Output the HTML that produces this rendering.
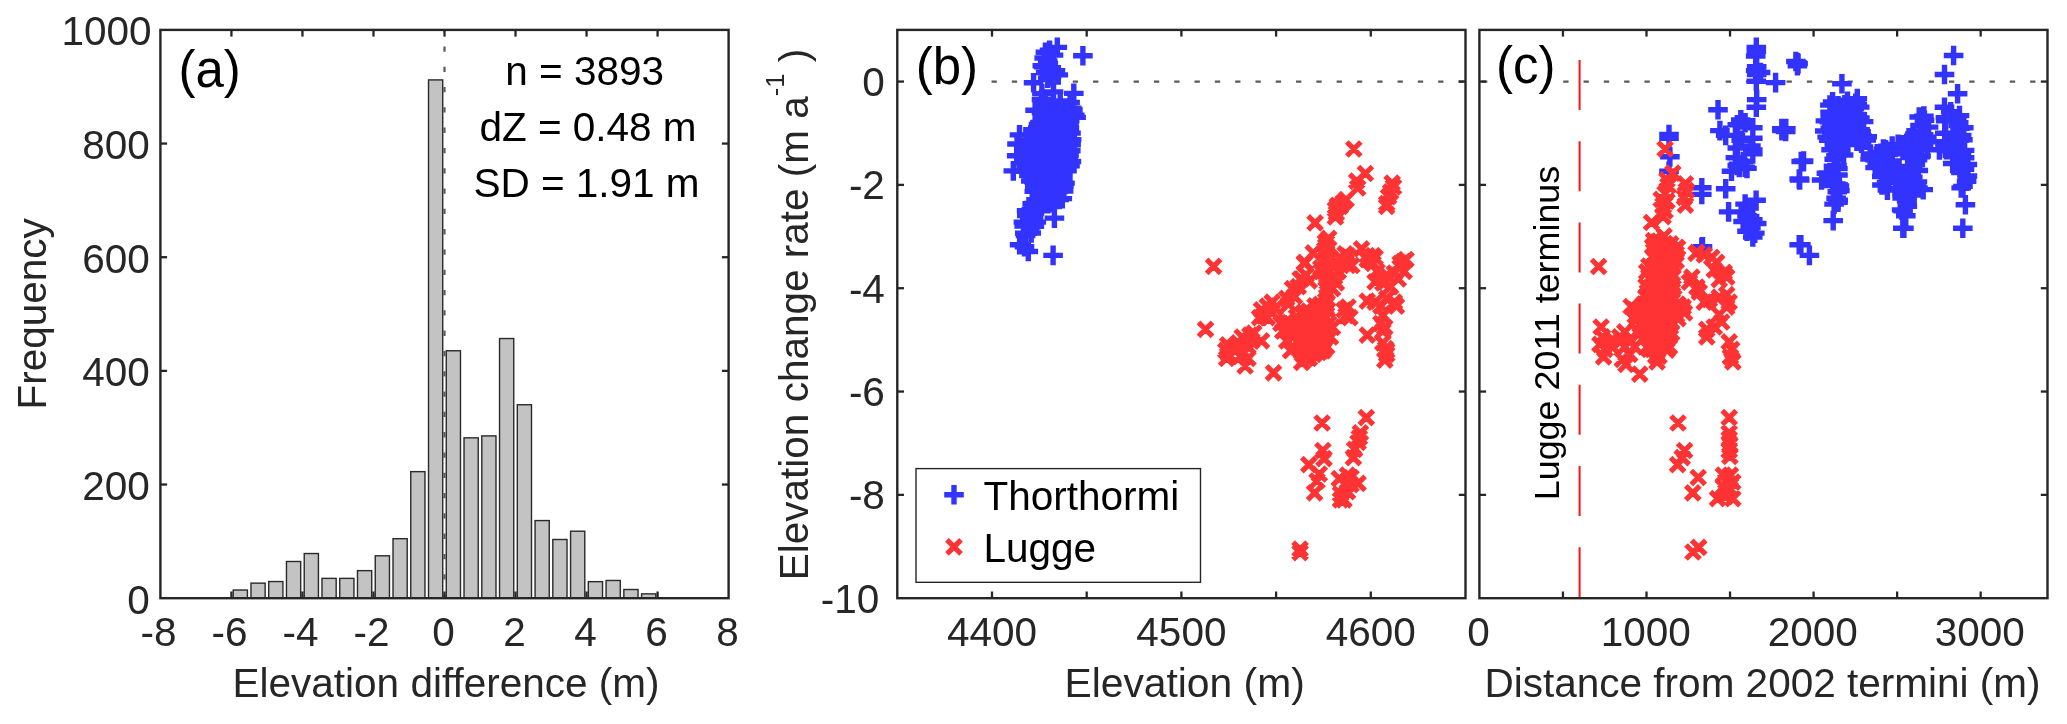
<!DOCTYPE html>
<html><head><meta charset="utf-8"><title>Elevation change figure</title>
<style>html,body{margin:0;padding:0;background:#fff}svg{display:block;will-change:transform}text{font-family:"Liberation Sans", Arial, Helvetica, sans-serif}</style></head><body>
<svg width="2067" height="724" viewBox="0 0 2067 724">
<rect width="2067" height="724" fill="#fff"/>
<g id="panel-a">
<rect x="233.20" y="590.02" width="14.21" height="8.18" fill="#c3c3c3" stroke="#2a2a2a" stroke-width="1.4"/>
<rect x="250.96" y="583.14" width="14.20" height="15.06" fill="#c3c3c3" stroke="#2a2a2a" stroke-width="1.4"/>
<rect x="268.71" y="581.55" width="14.21" height="16.65" fill="#c3c3c3" stroke="#2a2a2a" stroke-width="1.4"/>
<rect x="286.47" y="561.49" width="14.21" height="36.71" fill="#c3c3c3" stroke="#2a2a2a" stroke-width="1.4"/>
<rect x="304.23" y="553.53" width="14.20" height="44.67" fill="#c3c3c3" stroke="#2a2a2a" stroke-width="1.4"/>
<rect x="321.98" y="578.37" width="14.20" height="19.83" fill="#c3c3c3" stroke="#2a2a2a" stroke-width="1.4"/>
<rect x="339.74" y="578.37" width="14.20" height="19.83" fill="#c3c3c3" stroke="#2a2a2a" stroke-width="1.4"/>
<rect x="357.49" y="570.64" width="14.21" height="27.56" fill="#c3c3c3" stroke="#2a2a2a" stroke-width="1.4"/>
<rect x="375.25" y="555.80" width="14.21" height="42.40" fill="#c3c3c3" stroke="#2a2a2a" stroke-width="1.4"/>
<rect x="393.01" y="538.70" width="14.20" height="59.50" fill="#c3c3c3" stroke="#2a2a2a" stroke-width="1.4"/>
<rect x="410.76" y="471.64" width="14.20" height="126.56" fill="#c3c3c3" stroke="#2a2a2a" stroke-width="1.4"/>
<rect x="428.52" y="79.91" width="14.21" height="518.29" fill="#c3c3c3" stroke="#2a2a2a" stroke-width="1.4"/>
<rect x="446.28" y="350.76" width="14.20" height="247.44" fill="#c3c3c3" stroke="#2a2a2a" stroke-width="1.4"/>
<rect x="464.03" y="437.83" width="14.21" height="160.37" fill="#c3c3c3" stroke="#2a2a2a" stroke-width="1.4"/>
<rect x="481.79" y="435.89" width="14.20" height="162.31" fill="#c3c3c3" stroke="#2a2a2a" stroke-width="1.4"/>
<rect x="499.54" y="338.54" width="14.20" height="259.66" fill="#c3c3c3" stroke="#2a2a2a" stroke-width="1.4"/>
<rect x="517.30" y="404.75" width="14.20" height="193.45" fill="#c3c3c3" stroke="#2a2a2a" stroke-width="1.4"/>
<rect x="535.06" y="520.57" width="14.20" height="77.63" fill="#c3c3c3" stroke="#2a2a2a" stroke-width="1.4"/>
<rect x="552.81" y="539.49" width="14.21" height="58.71" fill="#c3c3c3" stroke="#2a2a2a" stroke-width="1.4"/>
<rect x="570.57" y="531.20" width="14.20" height="67.00" fill="#c3c3c3" stroke="#2a2a2a" stroke-width="1.4"/>
<rect x="588.33" y="581.66" width="14.20" height="16.54" fill="#c3c3c3" stroke="#2a2a2a" stroke-width="1.4"/>
<rect x="606.08" y="580.47" width="14.20" height="17.73" fill="#c3c3c3" stroke="#2a2a2a" stroke-width="1.4"/>
<rect x="623.84" y="589.51" width="14.20" height="8.69" fill="#c3c3c3" stroke="#2a2a2a" stroke-width="1.4"/>
<rect x="641.59" y="593.88" width="14.21" height="4.32" fill="#c3c3c3" stroke="#2a2a2a" stroke-width="1.4"/>
<line x1="444.50" y1="29.90" x2="444.50" y2="598.20" stroke="#5a5a5a" stroke-width="2.2" stroke-dasharray="5.3 15" stroke-dashoffset="-16.5"/>
<line x1="231.43" y1="598.20" x2="231.43" y2="591.50" stroke="#262626" stroke-width="2.3" />
<line x1="231.43" y1="29.90" x2="231.43" y2="36.60" stroke="#262626" stroke-width="2.3" />
<line x1="302.45" y1="598.20" x2="302.45" y2="591.50" stroke="#262626" stroke-width="2.3" />
<line x1="302.45" y1="29.90" x2="302.45" y2="36.60" stroke="#262626" stroke-width="2.3" />
<line x1="373.48" y1="598.20" x2="373.48" y2="591.50" stroke="#262626" stroke-width="2.3" />
<line x1="373.48" y1="29.90" x2="373.48" y2="36.60" stroke="#262626" stroke-width="2.3" />
<line x1="444.50" y1="598.20" x2="444.50" y2="591.50" stroke="#262626" stroke-width="2.3" />
<line x1="444.50" y1="29.90" x2="444.50" y2="36.60" stroke="#262626" stroke-width="2.3" />
<line x1="515.52" y1="598.20" x2="515.52" y2="591.50" stroke="#262626" stroke-width="2.3" />
<line x1="515.52" y1="29.90" x2="515.52" y2="36.60" stroke="#262626" stroke-width="2.3" />
<line x1="586.55" y1="598.20" x2="586.55" y2="591.50" stroke="#262626" stroke-width="2.3" />
<line x1="586.55" y1="29.90" x2="586.55" y2="36.60" stroke="#262626" stroke-width="2.3" />
<line x1="657.58" y1="598.20" x2="657.58" y2="591.50" stroke="#262626" stroke-width="2.3" />
<line x1="657.58" y1="29.90" x2="657.58" y2="36.60" stroke="#262626" stroke-width="2.3" />
<line x1="160.40" y1="484.54" x2="167.10" y2="484.54" stroke="#262626" stroke-width="2.3" />
<line x1="728.60" y1="484.54" x2="721.90" y2="484.54" stroke="#262626" stroke-width="2.3" />
<line x1="160.40" y1="370.88" x2="167.10" y2="370.88" stroke="#262626" stroke-width="2.3" />
<line x1="728.60" y1="370.88" x2="721.90" y2="370.88" stroke="#262626" stroke-width="2.3" />
<line x1="160.40" y1="257.22" x2="167.10" y2="257.22" stroke="#262626" stroke-width="2.3" />
<line x1="728.60" y1="257.22" x2="721.90" y2="257.22" stroke="#262626" stroke-width="2.3" />
<line x1="160.40" y1="143.56" x2="167.10" y2="143.56" stroke="#262626" stroke-width="2.3" />
<line x1="728.60" y1="143.56" x2="721.90" y2="143.56" stroke="#262626" stroke-width="2.3" />
<rect x="160.40" y="29.90" width="568.20" height="568.30" fill="none" stroke="#262626" stroke-width="2.4"/>
<text x="158.40" y="646.30" font-size="40.5" text-anchor="middle" fill="#262626" >-8</text>
<text x="229.43" y="646.30" font-size="40.5" text-anchor="middle" fill="#262626" >-6</text>
<text x="300.45" y="646.30" font-size="40.5" text-anchor="middle" fill="#262626" >-4</text>
<text x="371.48" y="646.30" font-size="40.5" text-anchor="middle" fill="#262626" >-2</text>
<text x="443.50" y="646.30" font-size="40.5" text-anchor="middle" fill="#262626" >0</text>
<text x="514.52" y="646.30" font-size="40.5" text-anchor="middle" fill="#262626" >2</text>
<text x="585.55" y="646.30" font-size="40.5" text-anchor="middle" fill="#262626" >4</text>
<text x="656.58" y="646.30" font-size="40.5" text-anchor="middle" fill="#262626" >6</text>
<text x="727.60" y="646.30" font-size="40.5" text-anchor="middle" fill="#262626" >8</text>
<text x="149.90" y="613.50" font-size="40.5" text-anchor="end" fill="#262626" >0</text>
<text x="149.90" y="499.84" font-size="40.5" text-anchor="end" fill="#262626" >200</text>
<text x="149.90" y="386.18" font-size="40.5" text-anchor="end" fill="#262626" >400</text>
<text x="149.90" y="272.52" font-size="40.5" text-anchor="end" fill="#262626" >600</text>
<text x="149.90" y="158.86" font-size="40.5" text-anchor="end" fill="#262626" >800</text>
<text x="151.60" y="45.20" font-size="40.5" text-anchor="end" fill="#262626" >1000</text>
<text x="446.00" y="697.40" font-size="40.5" text-anchor="middle" fill="#262626" >Elevation difference (m)</text>
<text transform="translate(46,313.8) rotate(-90)" font-size="40.5" text-anchor="middle" fill="#262626">Frequency</text>
<text x="178.50" y="87.20" font-size="51" text-anchor="start" fill="#000" >(a)</text>
<text x="584.70" y="84.60" font-size="40.5" text-anchor="middle" fill="#000" >n = 3893</text>
<text x="588.00" y="141.00" font-size="40.5" text-anchor="middle" fill="#000" >dZ = 0.48 m</text>
<text x="586.50" y="197.40" font-size="40.5" text-anchor="middle" fill="#000" >SD = 1.91 m</text>
</g>
<g id="panel-b">
<line x1="897.30" y1="81.56" x2="1465.50" y2="81.56" stroke="#5a5a5a" stroke-width="2.2" stroke-dasharray="5.3 15" stroke-dashoffset="-13.05"/>
<path d="M1073.1 55.7h19.6M1082.9 45.9v19.6M1047.5 47.4h19.6M1057.3 37.6v19.6M1039.8 50.3h19.6M1049.6 40.5v19.6M1035.6 52.2h19.6M1045.4 42.4v19.6M1043.7 55.1h19.6M1053.5 45.3v19.6M1034.4 58.0h19.6M1044.2 48.2v19.6M1037.9 60.9h19.6M1047.7 51.1v19.6M1032.5 65.8h19.6M1042.3 56.0v19.6M1034.0 66.7h19.6M1043.8 56.9v19.6M1039.8 68.7h19.6M1049.6 58.9v19.6M1045.6 70.6h19.6M1055.4 60.8v19.6M1035.9 72.5h19.6M1045.7 62.7v19.6M1048.5 74.9h19.6M1058.3 65.1v19.6M1041.7 76.4h19.6M1051.5 66.6v19.6M1037.9 78.3h19.6M1047.7 68.5v19.6M1023.8 82.8h19.6M1033.6 73.0v19.6M1064.0 93.4h19.6M1073.8 83.6v19.6M1032.1 93.8h19.6M1041.9 84.0v19.6M1043.7 91.9h19.6M1053.5 82.1v19.6M1031.7 99.6h19.6M1041.5 89.8v19.6M1025.3 110.2h19.6M1035.1 100.4v19.6M1065.0 115.1h19.6M1074.8 105.3v19.6M1066.3 117.4h19.6M1076.1 107.6v19.6M1009.7 134.9h19.6M1019.5 125.1v19.6M1007.2 144.0h19.6M1017.0 134.2v19.6M1035.5 101.3h19.6M1045.3 91.5v19.6M1050.4 101.0h19.6M1060.2 91.2v19.6M1060.3 102.4h19.6M1070.1 92.6v19.6M1032.5 105.1h19.6M1042.3 95.3v19.6M1041.1 107.7h19.6M1050.9 97.9v19.6M1043.9 108.1h19.6M1053.7 98.3v19.6M1050.4 107.0h19.6M1060.2 97.2v19.6M1054.5 108.0h19.6M1064.3 98.2v19.6M1062.0 108.1h19.6M1071.8 98.3v19.6M1031.7 112.5h19.6M1041.5 102.7v19.6M1038.6 111.0h19.6M1048.4 101.2v19.6M1046.0 111.7h19.6M1055.8 101.9v19.6M1049.5 111.7h19.6M1059.3 101.9v19.6M1056.5 110.0h19.6M1066.3 100.2v19.6M1063.1 109.8h19.6M1072.9 100.0v19.6M1032.4 119.1h19.6M1042.2 109.3v19.6M1038.0 118.3h19.6M1047.8 108.5v19.6M1046.4 119.0h19.6M1056.2 109.2v19.6M1049.6 116.7h19.6M1059.4 106.9v19.6M1055.8 118.3h19.6M1065.6 108.5v19.6M1059.6 118.2h19.6M1069.4 108.4v19.6M1028.7 124.4h19.6M1038.5 114.6v19.6M1033.1 124.4h19.6M1042.9 114.6v19.6M1039.4 122.0h19.6M1049.2 112.2v19.6M1044.0 121.5h19.6M1053.8 111.7v19.6M1048.5 121.3h19.6M1058.3 111.5v19.6M1056.5 124.7h19.6M1066.3 114.9v19.6M1059.9 120.9h19.6M1069.7 111.1v19.6M1023.1 129.6h19.6M1032.9 119.8v19.6M1028.0 127.9h19.6M1037.8 118.1v19.6M1031.9 129.9h19.6M1041.7 120.1v19.6M1037.3 128.2h19.6M1047.1 118.4v19.6M1046.1 126.8h19.6M1055.9 117.0v19.6M1051.1 130.0h19.6M1060.9 120.2v19.6M1056.2 129.4h19.6M1066.0 119.6v19.6M1059.6 128.0h19.6M1069.4 118.2v19.6M1024.7 135.2h19.6M1034.5 125.4v19.6M1030.1 133.6h19.6M1039.9 123.8v19.6M1033.7 134.7h19.6M1043.5 124.9v19.6M1039.1 132.9h19.6M1048.9 123.1v19.6M1044.3 132.3h19.6M1054.1 122.5v19.6M1049.7 135.7h19.6M1059.5 125.9v19.6M1057.5 134.3h19.6M1067.3 124.5v19.6M1061.2 133.1h19.6M1071.0 123.3v19.6M1018.3 140.7h19.6M1028.1 130.9v19.6M1022.2 140.4h19.6M1032.0 130.6v19.6M1029.3 140.0h19.6M1039.1 130.2v19.6M1034.4 140.3h19.6M1044.2 130.5v19.6M1038.7 140.1h19.6M1048.5 130.3v19.6M1043.8 139.2h19.6M1053.6 129.4v19.6M1051.3 140.0h19.6M1061.1 130.2v19.6M1054.9 141.0h19.6M1064.7 131.2v19.6M1061.8 139.6h19.6M1071.6 129.8v19.6M1016.2 145.4h19.6M1026.0 135.6v19.6M1022.6 146.0h19.6M1032.4 136.2v19.6M1028.8 145.9h19.6M1038.6 136.1v19.6M1033.1 145.3h19.6M1042.9 135.5v19.6M1040.2 146.1h19.6M1050.0 136.3v19.6M1044.1 146.1h19.6M1053.9 136.3v19.6M1051.7 145.5h19.6M1061.5 135.7v19.6M1057.6 146.6h19.6M1067.4 136.8v19.6M1061.3 144.9h19.6M1071.1 135.1v19.6M1019.0 150.2h19.6M1028.8 140.4v19.6M1023.5 151.1h19.6M1033.3 141.3v19.6M1029.1 148.9h19.6M1038.9 139.1v19.6M1034.8 150.6h19.6M1044.6 140.8v19.6M1039.9 149.9h19.6M1049.7 140.1v19.6M1045.2 151.3h19.6M1055.0 141.5v19.6M1050.8 151.1h19.6M1060.6 141.3v19.6M1053.8 148.9h19.6M1063.6 139.1v19.6M1061.0 150.8h19.6M1070.8 141.0v19.6M1017.7 153.9h19.6M1027.5 144.1v19.6M1022.6 154.7h19.6M1032.4 144.9v19.6M1026.4 154.3h19.6M1036.2 144.5v19.6M1033.0 154.5h19.6M1042.8 144.7v19.6M1038.0 153.9h19.6M1047.8 144.1v19.6M1044.6 155.3h19.6M1054.4 145.5v19.6M1050.7 156.1h19.6M1060.5 146.3v19.6M1054.7 157.4h19.6M1064.5 147.6v19.6M1059.2 155.4h19.6M1069.0 145.6v19.6M1015.7 162.6h19.6M1025.5 152.8v19.6M1022.2 159.4h19.6M1032.0 149.6v19.6M1028.7 159.6h19.6M1038.5 149.8v19.6M1033.9 160.6h19.6M1043.7 150.8v19.6M1039.5 163.1h19.6M1049.3 153.3v19.6M1046.0 160.9h19.6M1055.8 151.1v19.6M1051.5 161.8h19.6M1061.3 152.0v19.6M1055.2 159.8h19.6M1065.0 150.0v19.6M1061.6 161.5h19.6M1071.4 151.7v19.6M1003.5 170.9h19.6M1013.3 161.1v19.6M1006.9 155.8h19.6M1016.7 146.0v19.6M1043.3 255.4h19.6M1053.1 245.6v19.6M1044.6 218.1h19.6M1054.4 208.3v19.6M1018.5 251.5h19.6M1028.3 241.7v19.6M1009.8 244.8h19.6M1019.6 235.0v19.6M1014.7 246.7h19.6M1024.5 236.9v19.6M1024.3 154.5h19.6M1034.1 144.7v19.6M1042.3 155.8h19.6M1052.1 146.0v19.6M1054.1 156.3h19.6M1063.9 146.5v19.6M1019.2 158.5h19.6M1029.0 148.7v19.6M1025.4 161.3h19.6M1035.2 151.5v19.6M1030.3 160.3h19.6M1040.1 150.5v19.6M1037.7 159.5h19.6M1047.5 149.7v19.6M1042.8 158.3h19.6M1052.6 148.5v19.6M1046.4 158.8h19.6M1056.2 149.0v19.6M1054.3 159.7h19.6M1064.1 149.9v19.6M1058.4 160.3h19.6M1068.2 150.5v19.6M1016.3 166.3h19.6M1026.1 156.5v19.6M1019.6 165.8h19.6M1029.4 156.0v19.6M1026.2 167.0h19.6M1036.0 157.2v19.6M1032.5 164.7h19.6M1042.3 154.9v19.6M1039.0 164.0h19.6M1048.8 154.2v19.6M1042.3 166.5h19.6M1052.1 156.7v19.6M1046.7 165.5h19.6M1056.5 155.7v19.6M1051.8 166.2h19.6M1061.6 156.4v19.6M1060.2 165.8h19.6M1070.0 156.0v19.6M1015.9 171.4h19.6M1025.7 161.6v19.6M1020.9 170.8h19.6M1030.7 161.0v19.6M1027.5 172.8h19.6M1037.3 163.0v19.6M1031.5 171.7h19.6M1041.3 161.9v19.6M1035.4 171.8h19.6M1045.2 162.0v19.6M1043.2 173.0h19.6M1053.0 163.2v19.6M1049.4 170.1h19.6M1059.2 160.3v19.6M1053.2 171.7h19.6M1063.0 161.9v19.6M1057.2 170.8h19.6M1067.0 161.0v19.6M1019.1 175.5h19.6M1028.9 165.7v19.6M1025.7 178.0h19.6M1035.5 168.2v19.6M1029.9 176.3h19.6M1039.7 166.5v19.6M1037.3 178.0h19.6M1047.1 168.2v19.6M1043.9 178.0h19.6M1053.7 168.2v19.6M1047.2 176.2h19.6M1057.0 166.4v19.6M1053.1 178.0h19.6M1062.9 168.2v19.6M1021.0 181.1h19.6M1030.8 171.3v19.6M1024.1 181.7h19.6M1033.9 171.9v19.6M1031.1 182.3h19.6M1040.9 172.5v19.6M1038.9 182.8h19.6M1048.7 173.0v19.6M1042.7 182.5h19.6M1052.5 172.7v19.6M1048.8 180.2h19.6M1058.6 170.4v19.6M1055.2 183.1h19.6M1065.0 173.3v19.6M1025.0 186.1h19.6M1034.8 176.3v19.6M1031.0 185.7h19.6M1040.8 175.9v19.6M1035.1 186.1h19.6M1044.9 176.3v19.6M1041.0 187.0h19.6M1050.8 177.2v19.6M1046.2 189.0h19.6M1056.0 179.2v19.6M1054.1 186.1h19.6M1063.9 176.3v19.6M1024.5 191.4h19.6M1034.3 181.6v19.6M1031.0 192.1h19.6M1040.8 182.3v19.6M1038.4 191.6h19.6M1048.2 181.8v19.6M1040.7 194.8h19.6M1050.5 185.0v19.6M1048.2 191.6h19.6M1058.0 181.8v19.6M1053.8 191.1h19.6M1063.6 181.3v19.6M1026.2 199.6h19.6M1036.0 189.8v19.6M1030.9 197.4h19.6M1040.7 187.6v19.6M1038.4 200.4h19.6M1048.2 190.6v19.6M1044.0 199.7h19.6M1053.8 189.9v19.6M1049.4 199.5h19.6M1059.2 189.7v19.6M1052.5 198.6h19.6M1062.3 188.8v19.6M1022.4 203.8h19.6M1032.2 194.0v19.6M1027.9 206.0h19.6M1037.7 196.2v19.6M1033.4 203.5h19.6M1043.2 193.7v19.6M1036.0 202.9h19.6M1045.8 193.1v19.6M1041.4 202.8h19.6M1051.2 193.0v19.6M1016.8 210.6h19.6M1026.6 200.8v19.6M1021.6 209.4h19.6M1031.4 199.6v19.6M1024.8 210.7h19.6M1034.6 200.9v19.6M1030.9 210.7h19.6M1040.7 200.9v19.6M1017.0 215.6h19.6M1026.8 205.8v19.6M1020.0 215.2h19.6M1029.8 205.4v19.6M1024.6 213.1h19.6M1034.4 203.3v19.6M1013.6 222.1h19.6M1023.4 212.3v19.6M1020.0 220.3h19.6M1029.8 210.5v19.6M1026.5 222.1h19.6M1036.3 212.3v19.6M1014.4 226.1h19.6M1024.2 216.3v19.6M1020.8 227.1h19.6M1030.6 217.3v19.6M1024.5 226.2h19.6M1034.3 216.4v19.6M1015.0 233.3h19.6M1024.8 223.5v19.6M1021.4 233.0h19.6M1031.2 223.2v19.6M1015.8 235.6h19.6M1025.6 225.8v19.6" stroke="#3333ff" stroke-width="5.4" fill="none"/>
<path d="M1346.8 142.0l14.0 14.0M1346.8 156.0l14.0 -14.0M1358.4 166.5l14.0 14.0M1358.4 180.5l14.0 -14.0M1349.7 174.2l14.0 14.0M1349.7 188.2l14.0 -14.0M1350.7 181.0l14.0 14.0M1350.7 195.0l14.0 -14.0M1385.1 176.2l14.0 14.0M1385.1 190.2l14.0 -14.0M1386.5 180.0l14.0 14.0M1386.5 194.0l14.0 -14.0M1383.6 184.9l14.0 14.0M1383.6 198.9l14.0 -14.0M1381.6 189.7l14.0 14.0M1381.6 203.7l14.0 -14.0M1379.7 196.5l14.0 14.0M1379.7 210.5l14.0 -14.0M1379.7 199.4l14.0 14.0M1379.7 213.4l14.0 -14.0M1339.1 192.6l14.0 14.0M1339.1 206.6l14.0 -14.0M1336.2 195.5l14.0 14.0M1336.2 209.5l14.0 -14.0M1333.3 199.4l14.0 14.0M1333.3 213.4l14.0 -14.0M1330.4 198.4l14.0 14.0M1330.4 212.4l14.0 -14.0M1328.4 202.3l14.0 14.0M1328.4 216.3l14.0 -14.0M1329.4 206.1l14.0 14.0M1329.4 220.1l14.0 -14.0M1328.4 210.0l14.0 14.0M1328.4 224.0l14.0 -14.0M1308.1 215.8l14.0 14.0M1308.1 229.8l14.0 -14.0M1321.7 231.3l14.0 14.0M1321.7 245.3l14.0 -14.0M1319.7 235.2l14.0 14.0M1319.7 249.2l14.0 -14.0M1318.8 239.0l14.0 14.0M1318.8 253.0l14.0 -14.0M1317.8 242.9l14.0 14.0M1317.8 256.9l14.0 -14.0M1306.2 245.8l14.0 14.0M1306.2 259.8l14.0 -14.0M1297.5 256.4l14.0 14.0M1297.5 270.4l14.0 -14.0M1319.7 248.7l14.0 14.0M1319.7 262.7l14.0 -14.0M1320.7 254.5l14.0 14.0M1320.7 268.5l14.0 -14.0M1338.1 246.8l14.0 14.0M1338.1 260.8l14.0 -14.0M1354.5 241.9l14.0 14.0M1354.5 255.9l14.0 -14.0M1360.3 248.7l14.0 14.0M1360.3 262.7l14.0 -14.0M1366.1 248.7l14.0 14.0M1366.1 262.7l14.0 -14.0M1364.2 254.5l14.0 14.0M1364.2 268.5l14.0 -14.0M1396.1 254.5l14.0 14.0M1396.1 268.5l14.0 -14.0M1393.2 256.4l14.0 14.0M1393.2 270.4l14.0 -14.0M1399.0 252.6l14.0 14.0M1399.0 266.6l14.0 -14.0M1331.3 256.4l14.0 14.0M1331.3 270.4l14.0 -14.0M1341.0 258.4l14.0 14.0M1341.0 272.4l14.0 -14.0M1297.5 255.6l14.0 14.0M1297.5 269.6l14.0 -14.0M1294.6 272.0l14.0 14.0M1294.6 286.0l14.0 -14.0M1302.3 273.9l14.0 14.0M1302.3 287.9l14.0 -14.0M1396.1 254.6l14.0 14.0M1396.1 268.6l14.0 -14.0M1393.2 260.4l14.0 14.0M1393.2 274.4l14.0 -14.0M1397.1 264.3l14.0 14.0M1397.1 278.3l14.0 -14.0M1387.4 266.2l14.0 14.0M1387.4 280.2l14.0 -14.0M1379.7 268.1l14.0 14.0M1379.7 282.1l14.0 -14.0M1370.0 264.3l14.0 14.0M1370.0 278.3l14.0 -14.0M1366.1 256.5l14.0 14.0M1366.1 270.5l14.0 -14.0M1368.1 250.7l14.0 14.0M1368.1 264.7l14.0 -14.0M1360.3 252.7l14.0 14.0M1360.3 266.7l14.0 -14.0M1368.1 274.9l14.0 14.0M1368.1 288.9l14.0 -14.0M1375.8 275.9l14.0 14.0M1375.8 289.9l14.0 -14.0M1383.6 279.7l14.0 14.0M1383.6 293.7l14.0 -14.0M1391.3 272.0l14.0 14.0M1391.3 286.0l14.0 -14.0M1360.3 294.2l14.0 14.0M1360.3 308.2l14.0 -14.0M1368.1 295.2l14.0 14.0M1368.1 309.2l14.0 -14.0M1373.9 299.1l14.0 14.0M1373.9 313.1l14.0 -14.0M1379.7 291.3l14.0 14.0M1379.7 305.3l14.0 -14.0M1387.4 295.2l14.0 14.0M1387.4 309.2l14.0 -14.0M1389.4 299.1l14.0 14.0M1389.4 313.1l14.0 -14.0M1375.8 308.7l14.0 14.0M1375.8 322.7l14.0 -14.0M1373.9 316.5l14.0 14.0M1373.9 330.5l14.0 -14.0M1377.8 320.3l14.0 14.0M1377.8 334.3l14.0 -14.0M1375.8 324.2l14.0 14.0M1375.8 338.2l14.0 -14.0M1360.3 328.1l14.0 14.0M1360.3 342.1l14.0 -14.0M1375.8 335.8l14.0 14.0M1375.8 349.8l14.0 -14.0M1378.7 341.6l14.0 14.0M1378.7 355.6l14.0 -14.0M1379.7 347.4l14.0 14.0M1379.7 361.4l14.0 -14.0M1377.8 353.2l14.0 14.0M1377.8 367.2l14.0 -14.0M1379.7 343.6l14.0 14.0M1379.7 357.6l14.0 -14.0M1341.0 300.0l14.0 14.0M1341.0 314.0l14.0 -14.0M1337.1 302.9l14.0 14.0M1337.1 316.9l14.0 -14.0M1342.9 310.7l14.0 14.0M1342.9 324.7l14.0 -14.0M1339.1 308.7l14.0 14.0M1339.1 322.7l14.0 -14.0M1344.9 258.5l14.0 14.0M1344.9 272.5l14.0 -14.0M1339.1 254.6l14.0 14.0M1339.1 268.6l14.0 -14.0M1333.3 250.7l14.0 14.0M1333.3 264.7l14.0 -14.0M1341.0 248.8l14.0 14.0M1341.0 262.8l14.0 -14.0M1331.3 264.3l14.0 14.0M1331.3 278.3l14.0 -14.0M1327.5 270.1l14.0 14.0M1327.5 284.1l14.0 -14.0M1329.4 275.9l14.0 14.0M1329.4 289.9l14.0 -14.0M1325.5 281.7l14.0 14.0M1325.5 295.7l14.0 -14.0M1294.6 355.2l14.0 14.0M1294.6 369.2l14.0 -14.0M1302.3 351.3l14.0 14.0M1302.3 365.3l14.0 -14.0M1312.0 345.5l14.0 14.0M1312.0 359.5l14.0 -14.0M1319.7 339.7l14.0 14.0M1319.7 353.7l14.0 -14.0M1323.6 330.0l14.0 14.0M1323.6 344.0l14.0 -14.0M1325.5 320.3l14.0 14.0M1325.5 334.3l14.0 -14.0M1321.7 316.5l14.0 14.0M1321.7 330.5l14.0 -14.0M1206.6 259.4l14.0 14.0M1206.6 273.4l14.0 -14.0M1198.5 322.3l14.0 14.0M1198.5 336.3l14.0 -14.0M1266.5 365.8l14.0 14.0M1266.5 379.8l14.0 -14.0M1220.7 337.8l14.0 14.0M1220.7 351.8l14.0 -14.0M1218.8 343.6l14.0 14.0M1218.8 357.6l14.0 -14.0M1221.7 347.4l14.0 14.0M1221.7 361.4l14.0 -14.0M1219.7 351.3l14.0 14.0M1219.7 365.3l14.0 -14.0M1227.5 339.7l14.0 14.0M1227.5 353.7l14.0 -14.0M1235.2 330.0l14.0 14.0M1235.2 344.0l14.0 -14.0M1239.1 333.9l14.0 14.0M1239.1 347.9l14.0 -14.0M1242.9 328.1l14.0 14.0M1242.9 342.1l14.0 -14.0M1246.8 326.1l14.0 14.0M1246.8 340.1l14.0 -14.0M1241.0 339.7l14.0 14.0M1241.0 353.7l14.0 -14.0M1237.1 345.5l14.0 14.0M1237.1 359.5l14.0 -14.0M1241.0 351.3l14.0 14.0M1241.0 365.3l14.0 -14.0M1238.1 359.0l14.0 14.0M1238.1 373.0l14.0 -14.0M1254.5 333.9l14.0 14.0M1254.5 347.9l14.0 -14.0M1231.3 335.8l14.0 14.0M1231.3 349.8l14.0 -14.0M1233.3 349.4l14.0 14.0M1233.3 363.4l14.0 -14.0M1244.9 333.9l14.0 14.0M1244.9 347.9l14.0 -14.0M1265.2 295.2l14.0 14.0M1265.2 309.2l14.0 -14.0M1260.3 299.1l14.0 14.0M1260.3 313.1l14.0 -14.0M1254.5 302.9l14.0 14.0M1254.5 316.9l14.0 -14.0M1256.5 308.7l14.0 14.0M1256.5 322.7l14.0 -14.0M1252.6 310.7l14.0 14.0M1252.6 324.7l14.0 -14.0M1264.2 304.9l14.0 14.0M1264.2 318.9l14.0 -14.0M1268.1 301.0l14.0 14.0M1268.1 315.0l14.0 -14.0M1260.3 310.7l14.0 14.0M1260.3 324.7l14.0 -14.0M1298.1 255.6l14.0 14.0M1298.1 269.6l14.0 -14.0M1293.2 272.0l14.0 14.0M1293.2 286.0l14.0 -14.0M1285.5 281.7l14.0 14.0M1285.5 295.7l14.0 -14.0M1279.7 291.3l14.0 14.0M1279.7 305.3l14.0 -14.0M1281.6 297.1l14.0 14.0M1281.6 311.1l14.0 -14.0M1299.0 268.1l14.0 14.0M1299.0 282.1l14.0 -14.0M1291.3 279.7l14.0 14.0M1291.3 293.7l14.0 -14.0M1287.4 289.4l14.0 14.0M1287.4 303.4l14.0 -14.0M1295.2 355.2l14.0 14.0M1295.2 369.2l14.0 -14.0M1299.0 351.3l14.0 14.0M1299.0 365.3l14.0 -14.0M1279.7 333.9l14.0 14.0M1279.7 347.9l14.0 -14.0M1275.8 324.2l14.0 14.0M1275.8 338.2l14.0 -14.0M1273.9 316.5l14.0 14.0M1273.9 330.5l14.0 -14.0M1283.6 343.6l14.0 14.0M1283.6 357.6l14.0 -14.0M1306.8 347.4l14.0 14.0M1306.8 361.4l14.0 -14.0M1316.4 343.6l14.0 14.0M1316.4 357.6l14.0 -14.0M1318.4 235.1l14.0 14.0M1318.4 249.1l14.0 -14.0M1319.5 240.9l14.0 14.0M1319.5 254.9l14.0 -14.0M1319.6 246.6l14.0 14.0M1319.6 260.6l14.0 -14.0M1320.2 253.8l14.0 14.0M1320.2 267.8l14.0 -14.0M1313.8 261.2l14.0 14.0M1313.8 275.2l14.0 -14.0M1318.8 260.8l14.0 14.0M1318.8 274.8l14.0 -14.0M1314.3 264.7l14.0 14.0M1314.3 278.7l14.0 -14.0M1318.0 265.1l14.0 14.0M1318.0 279.1l14.0 -14.0M1319.1 271.6l14.0 14.0M1319.1 285.6l14.0 -14.0M1319.7 279.2l14.0 14.0M1319.7 293.2l14.0 -14.0M1320.2 285.3l14.0 14.0M1320.2 299.3l14.0 -14.0M1318.8 293.6l14.0 14.0M1318.8 307.6l14.0 -14.0M1308.0 298.8l14.0 14.0M1308.0 312.8l14.0 -14.0M1313.7 297.3l14.0 14.0M1313.7 311.3l14.0 -14.0M1319.6 297.0l14.0 14.0M1319.6 311.0l14.0 -14.0M1296.8 305.3l14.0 14.0M1296.8 319.3l14.0 -14.0M1301.7 304.0l14.0 14.0M1301.7 318.0l14.0 -14.0M1307.9 304.1l14.0 14.0M1307.9 318.1l14.0 -14.0M1312.6 303.7l14.0 14.0M1312.6 317.7l14.0 -14.0M1320.6 302.9l14.0 14.0M1320.6 316.9l14.0 -14.0M1289.6 309.8l14.0 14.0M1289.6 323.8l14.0 -14.0M1297.1 309.4l14.0 14.0M1297.1 323.4l14.0 -14.0M1301.4 309.4l14.0 14.0M1301.4 323.4l14.0 -14.0M1308.0 309.6l14.0 14.0M1308.0 323.6l14.0 -14.0M1313.2 311.0l14.0 14.0M1313.2 325.0l14.0 -14.0M1319.1 310.5l14.0 14.0M1319.1 324.5l14.0 -14.0M1278.9 315.1l14.0 14.0M1278.9 329.1l14.0 -14.0M1282.3 315.5l14.0 14.0M1282.3 329.5l14.0 -14.0M1290.4 316.6l14.0 14.0M1290.4 330.6l14.0 -14.0M1294.9 315.8l14.0 14.0M1294.9 329.8l14.0 -14.0M1300.7 316.2l14.0 14.0M1300.7 330.2l14.0 -14.0M1306.3 316.9l14.0 14.0M1306.3 330.9l14.0 -14.0M1314.8 317.6l14.0 14.0M1314.8 331.6l14.0 -14.0M1320.3 317.7l14.0 14.0M1320.3 331.7l14.0 -14.0M1285.0 323.1l14.0 14.0M1285.0 337.1l14.0 -14.0M1289.4 323.6l14.0 14.0M1289.4 337.6l14.0 -14.0M1296.0 323.2l14.0 14.0M1296.0 337.2l14.0 -14.0M1301.0 321.4l14.0 14.0M1301.0 335.4l14.0 -14.0M1307.5 321.2l14.0 14.0M1307.5 335.2l14.0 -14.0M1313.3 323.7l14.0 14.0M1313.3 337.7l14.0 -14.0M1319.1 320.8l14.0 14.0M1319.1 334.8l14.0 -14.0M1284.5 327.9l14.0 14.0M1284.5 341.9l14.0 -14.0M1289.0 327.1l14.0 14.0M1289.0 341.1l14.0 -14.0M1297.1 328.1l14.0 14.0M1297.1 342.1l14.0 -14.0M1300.8 327.0l14.0 14.0M1300.8 341.0l14.0 -14.0M1306.3 327.3l14.0 14.0M1306.3 341.3l14.0 -14.0M1314.2 327.2l14.0 14.0M1314.2 341.2l14.0 -14.0M1318.3 328.3l14.0 14.0M1318.3 342.3l14.0 -14.0M1290.5 334.0l14.0 14.0M1290.5 348.0l14.0 -14.0M1297.1 334.2l14.0 14.0M1297.1 348.2l14.0 -14.0M1300.9 334.0l14.0 14.0M1300.9 348.0l14.0 -14.0M1306.3 334.0l14.0 14.0M1306.3 348.0l14.0 -14.0M1312.9 335.4l14.0 14.0M1312.9 349.4l14.0 -14.0M1294.6 338.9l14.0 14.0M1294.6 352.9l14.0 -14.0M1302.9 340.5l14.0 14.0M1302.9 354.5l14.0 -14.0M1309.1 340.0l14.0 14.0M1309.1 354.0l14.0 -14.0M1314.8 340.7l14.0 14.0M1314.8 354.7l14.0 -14.0M1295.2 346.8l14.0 14.0M1295.2 360.8l14.0 -14.0M1302.5 346.7l14.0 14.0M1302.5 360.7l14.0 -14.0M1315.1 416.0l14.0 14.0M1315.1 430.0l14.0 -14.0M1359.3 410.6l14.0 14.0M1359.3 424.6l14.0 -14.0M1353.4 425.9l14.0 14.0M1353.4 439.9l14.0 -14.0M1352.3 430.6l14.0 14.0M1352.3 444.6l14.0 -14.0M1351.1 435.3l14.0 14.0M1351.1 449.3l14.0 -14.0M1347.6 442.3l14.0 14.0M1347.6 456.3l14.0 -14.0M1346.4 450.6l14.0 14.0M1346.4 464.6l14.0 -14.0M1315.9 443.5l14.0 14.0M1315.9 457.5l14.0 -14.0M1317.0 451.7l14.0 14.0M1317.0 465.7l14.0 -14.0M1301.8 457.6l14.0 14.0M1301.8 471.6l14.0 -14.0M1312.3 467.0l14.0 14.0M1312.3 481.0l14.0 -14.0M1310.0 474.0l14.0 14.0M1310.0 488.0l14.0 -14.0M1307.6 485.8l14.0 14.0M1307.6 499.8l14.0 -14.0M1332.3 471.7l14.0 14.0M1332.3 485.7l14.0 -14.0M1340.5 468.2l14.0 14.0M1340.5 482.2l14.0 -14.0M1344.0 470.5l14.0 14.0M1344.0 484.5l14.0 -14.0M1338.2 477.6l14.0 14.0M1338.2 491.6l14.0 -14.0M1344.0 477.6l14.0 14.0M1344.0 491.6l14.0 -14.0M1351.1 476.4l14.0 14.0M1351.1 490.4l14.0 -14.0M1333.5 487.0l14.0 14.0M1333.5 501.0l14.0 -14.0M1340.5 484.6l14.0 14.0M1340.5 498.6l14.0 -14.0M1333.5 492.8l14.0 14.0M1333.5 506.8l14.0 -14.0M1337.0 492.8l14.0 14.0M1337.0 506.8l14.0 -14.0M1293.1 542.2l14.0 14.0M1293.1 556.2l14.0 -14.0M1293.1 545.7l14.0 14.0M1293.1 559.7l14.0 -14.0" stroke="#ff3333" stroke-width="5.2" fill="none"/>
<rect x="906" y="45" width="84" height="52" fill="#fff"/>
<text x="915.70" y="83.50" font-size="51" text-anchor="start" fill="#000" >(b)</text>
<rect x="916" y="468.6" width="284.5" height="113.7" fill="#fff" stroke="#262626" stroke-width="1.4"/>
<path d="M944.2 494.7h19.6M954.0 484.9v19.6" stroke="#3333ff" stroke-width="5.4" fill="none"/>
<path d="M947.0 539.8l14.0 14.0M947.0 553.8l14.0 -14.0" stroke="#ff3333" stroke-width="5.2" fill="none"/>
<text x="983.50" y="509.70" font-size="40.5" text-anchor="start" fill="#000" >Thorthormi</text>
<text x="983.50" y="562.10" font-size="40.5" text-anchor="start" fill="#000" >Lugge</text>
<line x1="992.00" y1="598.20" x2="992.00" y2="591.50" stroke="#262626" stroke-width="2.3" />
<line x1="992.00" y1="29.90" x2="992.00" y2="36.60" stroke="#262626" stroke-width="2.3" />
<line x1="1086.70" y1="598.20" x2="1086.70" y2="591.50" stroke="#262626" stroke-width="2.3" />
<line x1="1086.70" y1="29.90" x2="1086.70" y2="36.60" stroke="#262626" stroke-width="2.3" />
<line x1="1181.40" y1="598.20" x2="1181.40" y2="591.50" stroke="#262626" stroke-width="2.3" />
<line x1="1181.40" y1="29.90" x2="1181.40" y2="36.60" stroke="#262626" stroke-width="2.3" />
<line x1="1276.10" y1="598.20" x2="1276.10" y2="591.50" stroke="#262626" stroke-width="2.3" />
<line x1="1276.10" y1="29.90" x2="1276.10" y2="36.60" stroke="#262626" stroke-width="2.3" />
<line x1="1370.80" y1="598.20" x2="1370.80" y2="591.50" stroke="#262626" stroke-width="2.3" />
<line x1="1370.80" y1="29.90" x2="1370.80" y2="36.60" stroke="#262626" stroke-width="2.3" />
<line x1="897.30" y1="494.87" x2="904.00" y2="494.87" stroke="#262626" stroke-width="2.3" />
<line x1="1465.50" y1="494.87" x2="1458.80" y2="494.87" stroke="#262626" stroke-width="2.3" />
<line x1="897.30" y1="391.55" x2="904.00" y2="391.55" stroke="#262626" stroke-width="2.3" />
<line x1="1465.50" y1="391.55" x2="1458.80" y2="391.55" stroke="#262626" stroke-width="2.3" />
<line x1="897.30" y1="288.22" x2="904.00" y2="288.22" stroke="#262626" stroke-width="2.3" />
<line x1="1465.50" y1="288.22" x2="1458.80" y2="288.22" stroke="#262626" stroke-width="2.3" />
<line x1="897.30" y1="184.89" x2="904.00" y2="184.89" stroke="#262626" stroke-width="2.3" />
<line x1="1465.50" y1="184.89" x2="1458.80" y2="184.89" stroke="#262626" stroke-width="2.3" />
<line x1="897.30" y1="81.56" x2="904.00" y2="81.56" stroke="#262626" stroke-width="2.3" />
<line x1="1465.50" y1="81.56" x2="1458.80" y2="81.56" stroke="#262626" stroke-width="2.3" />
<rect x="897.30" y="29.90" width="568.20" height="568.30" fill="none" stroke="#262626" stroke-width="2.4"/>
<text x="992.00" y="646.30" font-size="40.5" text-anchor="middle" fill="#262626" >4400</text>
<text x="1181.40" y="646.30" font-size="40.5" text-anchor="middle" fill="#262626" >4500</text>
<text x="1370.80" y="646.30" font-size="40.5" text-anchor="middle" fill="#262626" >4600</text>
<text x="879.20" y="612.70" font-size="40.5" text-anchor="end" fill="#262626" >-10</text>
<text x="884.90" y="509.37" font-size="40.5" text-anchor="end" fill="#262626" >-8</text>
<text x="884.90" y="406.05" font-size="40.5" text-anchor="end" fill="#262626" >-6</text>
<text x="884.90" y="302.72" font-size="40.5" text-anchor="end" fill="#262626" >-4</text>
<text x="884.90" y="199.39" font-size="40.5" text-anchor="end" fill="#262626" >-2</text>
<text x="884.90" y="96.06" font-size="40.5" text-anchor="end" fill="#262626" >0</text>
<text x="1184.60" y="697.40" font-size="40.8" text-anchor="middle" fill="#262626" >Elevation (m)</text>
<text transform="translate(808.3,314.5) rotate(-90)" font-size="40.5" text-anchor="middle" fill="#262626">Elevation change rate (m a<tspan font-size="25.5" dy="-24.5">-1</tspan><tspan dy="24.5"> )</tspan></text>
</g>
<g id="panel-c">
<line x1="1479.40" y1="81.56" x2="2047.50" y2="81.56" stroke="#5a5a5a" stroke-width="2.2" stroke-dasharray="5.3 15" stroke-dashoffset="-2.65"/>
<line x1="1579.60" y1="60.00" x2="1579.60" y2="598.20" stroke="#ff1414" stroke-width="2.0" stroke-dasharray="50 31.2"/>
<path d="M1659.2 134.5h19.6M1669.0 124.7v19.6M1659.2 138.4h19.6M1669.0 128.6v19.6M1660.1 156.7h19.6M1669.9 146.9v19.6M1659.2 171.2h19.6M1669.0 161.4v19.6M1692.0 187.7h19.6M1701.8 177.9v19.6M1692.0 194.4h19.6M1701.8 184.6v19.6M1692.0 247.6h19.6M1701.8 237.8v19.6M1692.0 247.9h19.6M1701.8 238.1v19.6M1746.5 47.4h19.6M1756.3 37.6v19.6M1746.5 51.3h19.6M1756.3 41.5v19.6M1745.9 56.1h19.6M1755.7 46.3v19.6M1746.9 66.7h19.6M1756.7 56.9v19.6M1745.9 70.6h19.6M1755.7 60.8v19.6M1750.8 72.5h19.6M1760.6 62.7v19.6M1746.9 74.5h19.6M1756.7 64.7v19.6M1746.5 81.2h19.6M1756.3 71.4v19.6M1765.8 82.6h19.6M1775.6 72.8v19.6M1746.9 99.6h19.6M1756.7 89.8v19.6M1746.5 107.3h19.6M1756.3 97.5v19.6M1708.2 109.7h19.6M1718.0 99.9v19.6M1731.0 119.9h19.6M1740.8 110.1v19.6M1735.3 122.8h19.6M1745.1 113.0v19.6M1727.5 124.8h19.6M1737.3 115.0v19.6M1710.1 130.6h19.6M1719.9 120.8v19.6M1715.9 135.4h19.6M1725.7 125.6v19.6M1743.0 127.7h19.6M1752.8 117.9v19.6M1725.6 135.4h19.6M1735.4 125.6v19.6M1731.4 140.2h19.6M1741.2 130.4v19.6M1743.0 138.3h19.6M1752.8 128.5v19.6M1741.1 146.0h19.6M1750.9 136.2v19.6M1743.0 149.9h19.6M1752.8 140.1v19.6M1727.5 148.0h19.6M1737.3 138.2v19.6M1725.6 157.6h19.6M1735.4 147.8v19.6M1733.3 161.5h19.6M1743.1 151.7v19.6M1727.5 165.4h19.6M1737.3 155.6v19.6M1735.3 167.3h19.6M1745.1 157.5v19.6M1772.0 128.6h19.6M1781.8 118.8v19.6M1775.9 131.5h19.6M1785.7 121.7v19.6M1786.1 61.5h19.6M1795.9 51.7v19.6M1788.3 63.6h19.6M1798.1 53.8v19.6M1791.4 161.5h19.6M1801.2 151.7v19.6M1715.9 188.7h19.6M1725.7 178.9v19.6M1718.8 211.9h19.6M1728.6 202.1v19.6M1727.5 157.7h19.6M1737.3 147.9v19.6M1733.3 161.6h19.6M1743.1 151.8v19.6M1721.7 171.3h19.6M1731.5 161.5v19.6M1737.2 168.4h19.6M1747.0 158.6v19.6M1743.0 153.9h19.6M1752.8 144.1v19.6M1729.5 167.4h19.6M1739.3 157.6v19.6M1746.3 200.3h19.6M1756.1 190.5v19.6M1735.3 204.1h19.6M1745.1 194.3v19.6M1739.2 208.0h19.6M1749.0 198.2v19.6M1731.4 211.9h19.6M1741.2 202.1v19.6M1737.2 215.7h19.6M1747.0 205.9v19.6M1743.0 219.6h19.6M1752.8 209.8v19.6M1746.9 223.5h19.6M1756.7 213.7v19.6M1741.1 227.3h19.6M1750.9 217.5v19.6M1737.2 231.2h19.6M1747.0 221.4v19.6M1745.0 233.1h19.6M1754.8 223.3v19.6M1743.0 237.0h19.6M1752.8 227.2v19.6M1733.3 221.5h19.6M1743.1 211.7v19.6M1692.7 246.7h19.6M1702.5 236.9v19.6M1789.4 179.0h19.6M1799.2 169.2v19.6M1793.3 161.6h19.6M1803.1 151.8v19.6M1789.4 244.8h19.6M1799.2 235.0v19.6M1787.6 62.9h19.6M1797.4 53.1v19.6M1787.6 65.8h19.6M1797.4 56.0v19.6M1832.1 83.8h19.6M1841.9 74.0v19.6M1822.8 101.9h19.6M1832.6 92.1v19.6M1847.5 98.6h19.6M1857.3 88.8v19.6M1847.5 104.4h19.6M1857.3 94.6v19.6M1832.1 107.3h19.6M1841.9 97.5v19.6M1815.6 120.9h19.6M1825.4 111.1v19.6M1776.0 128.6h19.6M1785.8 118.8v19.6M1772.1 130.6h19.6M1781.9 120.8v19.6M1793.4 161.5h19.6M1803.2 151.7v19.6M1882.4 146.0h19.6M1892.2 136.2v19.6M1901.7 138.3h19.6M1911.5 128.5v19.6M1909.4 117.0h19.6M1919.2 107.2v19.6M1793.8 161.0h19.6M1803.6 151.2v19.6M1789.9 180.0h19.6M1799.7 170.2v19.6M1811.8 180.0h19.6M1821.6 170.2v19.6M1816.6 173.2h19.6M1826.4 163.4v19.6M1826.3 155.8h19.6M1836.1 146.0v19.6M1827.2 165.5h19.6M1837.0 155.7v19.6M1828.2 175.1h19.6M1838.0 165.3v19.6M1828.2 184.8h19.6M1838.0 175.0v19.6M1830.1 190.6h19.6M1839.9 180.8v19.6M1826.3 198.3h19.6M1836.1 188.5v19.6M1824.3 204.1h19.6M1834.1 194.3v19.6M1828.2 202.2h19.6M1838.0 192.4v19.6M1823.4 220.6h19.6M1833.2 210.8v19.6M1791.1 244.8h19.6M1800.9 235.0v19.6M1799.6 255.4h19.6M1809.4 245.6v19.6M1893.0 228.3h19.6M1902.8 218.5v19.6M1943.8 55.5h19.6M1953.6 45.7v19.6M1934.7 74.5h19.6M1944.5 64.7v19.6M1947.8 93.8h19.6M1957.6 84.0v19.6M1934.7 107.3h19.6M1944.5 97.5v19.6M1955.6 204.7h19.6M1965.4 194.9v19.6M1953.0 228.3h19.6M1962.8 218.5v19.6M1894.1 228.3h19.6M1903.9 218.5v19.6M1896.0 215.7h19.6M1905.8 205.9v19.6M1913.4 189.6h19.6M1923.2 179.8v19.6M1820.1 105.1h19.6M1829.9 95.3v19.6M1828.3 105.9h19.6M1838.1 96.1v19.6M1835.0 104.8h19.6M1844.8 95.0v19.6M1837.7 101.4h19.6M1847.5 91.6v19.6M1845.9 103.4h19.6M1855.7 93.6v19.6M1820.3 112.3h19.6M1830.1 102.5v19.6M1827.2 108.3h19.6M1837.0 98.5v19.6M1833.7 112.4h19.6M1843.5 102.6v19.6M1837.9 106.9h19.6M1847.7 97.1v19.6M1844.5 108.5h19.6M1854.3 98.7v19.6M1849.9 107.1h19.6M1859.7 97.3v19.6M1940.9 111.7h19.6M1950.7 101.9v19.6M1820.4 116.4h19.6M1830.2 106.6v19.6M1824.3 117.7h19.6M1834.1 107.9v19.6M1833.6 118.0h19.6M1843.4 108.2v19.6M1836.1 116.8h19.6M1845.9 107.0v19.6M1847.5 114.8h19.6M1857.3 105.0v19.6M1850.1 117.9h19.6M1859.9 108.1v19.6M1914.1 116.1h19.6M1923.9 106.3v19.6M1935.6 117.6h19.6M1945.4 107.8v19.6M1941.6 118.5h19.6M1951.4 108.7v19.6M1949.7 115.6h19.6M1959.5 105.8v19.6M1819.5 121.7h19.6M1829.3 111.9v19.6M1823.5 123.1h19.6M1833.3 113.3v19.6M1830.5 122.0h19.6M1840.3 112.2v19.6M1839.0 125.2h19.6M1848.8 115.4v19.6M1846.2 122.8h19.6M1856.0 113.0v19.6M1853.8 121.6h19.6M1863.6 111.8v19.6M1910.2 125.5h19.6M1920.0 115.7v19.6M1914.7 120.2h19.6M1924.5 110.4v19.6M1935.9 120.7h19.6M1945.7 110.9v19.6M1948.9 122.6h19.6M1958.7 112.8v19.6M1815.0 131.0h19.6M1824.8 121.2v19.6M1820.5 128.3h19.6M1830.3 118.5v19.6M1823.9 126.9h19.6M1833.7 117.1v19.6M1834.3 126.7h19.6M1844.1 116.9v19.6M1839.1 131.5h19.6M1848.9 121.7v19.6M1844.3 128.6h19.6M1854.1 118.8v19.6M1851.3 131.7h19.6M1861.1 121.9v19.6M1910.7 131.3h19.6M1920.5 121.5v19.6M1918.8 127.1h19.6M1928.6 117.3v19.6M1950.2 128.3h19.6M1960.0 118.5v19.6M1954.0 127.7h19.6M1963.8 117.9v19.6M1817.4 137.1h19.6M1827.2 127.3v19.6M1823.6 137.3h19.6M1833.4 127.5v19.6M1830.9 137.3h19.6M1840.7 127.5v19.6M1838.4 133.3h19.6M1848.2 123.5v19.6M1843.0 137.4h19.6M1852.8 127.6v19.6M1852.0 135.6h19.6M1861.8 125.8v19.6M1857.4 136.8h19.6M1867.2 127.0v19.6M1899.2 137.8h19.6M1909.0 128.0v19.6M1904.0 136.2h19.6M1913.8 126.4v19.6M1911.7 134.4h19.6M1921.5 124.6v19.6M1917.0 137.3h19.6M1926.8 127.5v19.6M1934.9 133.3h19.6M1944.7 123.5v19.6M1943.4 133.7h19.6M1953.2 123.9v19.6M1951.9 135.5h19.6M1961.7 125.7v19.6M1819.0 140.4h19.6M1828.8 130.6v19.6M1825.5 140.1h19.6M1835.3 130.3v19.6M1834.4 141.4h19.6M1844.2 131.6v19.6M1838.1 144.4h19.6M1847.9 134.6v19.6M1847.1 141.3h19.6M1856.9 131.5v19.6M1851.7 143.1h19.6M1861.5 133.3v19.6M1856.5 140.1h19.6M1866.3 130.3v19.6M1888.3 144.4h19.6M1898.1 134.6v19.6M1898.0 141.0h19.6M1907.8 131.2v19.6M1901.9 139.9h19.6M1911.7 130.1v19.6M1912.0 144.1h19.6M1921.8 134.3v19.6M1915.9 140.4h19.6M1925.7 130.6v19.6M1920.9 141.7h19.6M1930.7 131.9v19.6M1935.1 144.0h19.6M1944.9 134.2v19.6M1940.3 141.6h19.6M1950.1 131.8v19.6M1949.3 140.3h19.6M1959.1 130.5v19.6M1953.1 139.8h19.6M1962.9 130.0v19.6M1821.3 149.8h19.6M1831.1 140.0v19.6M1828.0 147.7h19.6M1837.8 137.9v19.6M1830.8 150.8h19.6M1840.6 141.0v19.6M1873.6 149.1h19.6M1883.4 139.3v19.6M1875.8 149.8h19.6M1885.6 140.0v19.6M1893.1 149.6h19.6M1902.9 139.8v19.6M1897.2 147.8h19.6M1907.0 138.0v19.6M1901.8 148.5h19.6M1911.6 138.7v19.6M1909.5 147.2h19.6M1919.3 137.4v19.6M1917.6 149.6h19.6M1927.4 139.8v19.6M1929.6 149.9h19.6M1939.4 140.1v19.6M1935.5 148.3h19.6M1945.3 138.5v19.6M1943.1 151.4h19.6M1952.9 141.6v19.6M1946.7 148.5h19.6M1956.5 138.7v19.6M1954.8 150.4h19.6M1964.6 140.6v19.6M1826.2 156.2h19.6M1836.0 146.4v19.6M1833.8 155.0h19.6M1843.6 145.2v19.6M1860.7 154.0h19.6M1870.5 144.2v19.6M1867.4 153.9h19.6M1877.2 144.1v19.6M1871.0 153.3h19.6M1880.8 143.5v19.6M1878.3 154.6h19.6M1888.1 144.8v19.6M1897.8 153.9h19.6M1907.6 144.1v19.6M1901.1 157.6h19.6M1910.9 147.8v19.6M1911.3 155.9h19.6M1921.1 146.1v19.6M1943.7 156.7h19.6M1953.5 146.9v19.6M1951.7 153.3h19.6M1961.5 143.5v19.6M1954.8 157.7h19.6M1964.6 147.9v19.6M1824.4 159.3h19.6M1834.2 149.5v19.6M1860.3 159.1h19.6M1870.1 149.3v19.6M1865.1 159.7h19.6M1874.9 149.9v19.6M1869.1 162.0h19.6M1878.9 152.2v19.6M1875.4 159.3h19.6M1885.2 149.5v19.6M1882.2 161.0h19.6M1892.0 151.2v19.6M1905.5 164.5h19.6M1915.3 154.7v19.6M1907.7 159.8h19.6M1917.5 150.0v19.6M1942.9 163.5h19.6M1952.7 153.7v19.6M1951.0 162.8h19.6M1960.8 153.0v19.6M1957.6 164.5h19.6M1967.4 154.7v19.6M1828.1 168.6h19.6M1837.9 158.8v19.6M1865.3 167.6h19.6M1875.1 157.8v19.6M1870.4 167.5h19.6M1880.2 157.7v19.6M1875.2 167.4h19.6M1885.0 157.6v19.6M1886.5 170.0h19.6M1896.3 160.2v19.6M1898.6 166.5h19.6M1908.4 156.7v19.6M1902.9 168.7h19.6M1912.7 158.9v19.6M1908.5 170.5h19.6M1918.3 160.7v19.6M1950.0 167.8h19.6M1959.8 158.0v19.6M1954.7 169.3h19.6M1964.5 159.5v19.6M1827.5 175.0h19.6M1837.3 165.2v19.6M1872.0 176.5h19.6M1881.8 166.7v19.6M1878.1 173.1h19.6M1887.9 163.3v19.6M1883.9 175.0h19.6M1893.7 165.2v19.6M1888.4 176.5h19.6M1898.2 166.7v19.6M1896.2 177.0h19.6M1906.0 167.2v19.6M1903.0 177.2h19.6M1912.8 167.4v19.6M1951.1 172.5h19.6M1960.9 162.7v19.6M1957.6 176.0h19.6M1967.4 166.2v19.6M1826.1 184.0h19.6M1835.9 174.2v19.6M1876.8 182.5h19.6M1886.6 172.7v19.6M1886.2 180.6h19.6M1896.0 170.8v19.6M1890.8 182.4h19.6M1900.6 172.6v19.6M1898.0 180.4h19.6M1907.8 170.6v19.6M1902.1 180.0h19.6M1911.9 170.2v19.6M1907.6 181.9h19.6M1917.4 172.1v19.6M1956.8 181.2h19.6M1966.6 171.4v19.6M1823.5 185.6h19.6M1833.3 175.8v19.6M1829.6 185.9h19.6M1839.4 176.1v19.6M1872.1 185.0h19.6M1881.9 175.2v19.6M1877.6 190.1h19.6M1887.4 180.3v19.6M1885.7 188.6h19.6M1895.5 178.8v19.6M1892.6 190.2h19.6M1902.4 180.4v19.6M1896.0 190.2h19.6M1905.8 180.4v19.6M1906.0 187.7h19.6M1915.8 177.9v19.6M1908.2 187.9h19.6M1918.0 178.1v19.6M1951.4 187.9h19.6M1961.2 178.1v19.6M1953.2 186.4h19.6M1963.0 176.6v19.6M1827.5 191.7h19.6M1837.3 181.9v19.6M1892.2 194.7h19.6M1902.0 184.9v19.6M1895.2 192.1h19.6M1905.0 182.3v19.6M1904.4 194.8h19.6M1914.2 185.0v19.6M1828.4 200.2h19.6M1838.2 190.4v19.6M1892.4 198.1h19.6M1902.2 188.3v19.6M1896.8 200.9h19.6M1906.6 191.1v19.6M1891.8 209.9h19.6M1901.6 200.1v19.6M1897.5 206.3h19.6M1907.3 196.5v19.6M1893.3 210.9h19.6M1903.1 201.1v19.6" stroke="#3333ff" stroke-width="5.4" fill="none"/>
<path d="M1658.1 142.0l14.0 14.0M1658.1 156.0l14.0 -14.0M1665.8 166.2l14.0 14.0M1665.8 180.2l14.0 -14.0M1660.0 172.9l14.0 14.0M1660.0 186.9l14.0 -14.0M1661.0 178.7l14.0 14.0M1661.0 192.7l14.0 -14.0M1678.4 176.8l14.0 14.0M1678.4 190.8l14.0 -14.0M1679.4 183.6l14.0 14.0M1679.4 197.6l14.0 -14.0M1677.4 190.3l14.0 14.0M1677.4 204.3l14.0 -14.0M1678.4 198.1l14.0 14.0M1678.4 212.1l14.0 -14.0M1658.1 186.5l14.0 14.0M1658.1 200.5l14.0 -14.0M1654.2 192.3l14.0 14.0M1654.2 206.3l14.0 -14.0M1656.1 198.1l14.0 14.0M1656.1 212.1l14.0 -14.0M1658.1 203.9l14.0 14.0M1658.1 217.9l14.0 -14.0M1656.1 209.7l14.0 14.0M1656.1 223.7l14.0 -14.0M1660.0 194.2l14.0 14.0M1660.0 208.2l14.0 -14.0M1644.5 215.5l14.0 14.0M1644.5 229.5l14.0 -14.0M1657.1 229.0l14.0 14.0M1657.1 243.0l14.0 -14.0M1650.3 234.8l14.0 14.0M1650.3 248.8l14.0 -14.0M1646.5 240.6l14.0 14.0M1646.5 254.6l14.0 -14.0M1654.2 242.6l14.0 14.0M1654.2 256.6l14.0 -14.0M1660.0 244.5l14.0 14.0M1660.0 258.5l14.0 -14.0M1669.7 240.6l14.0 14.0M1669.7 254.6l14.0 -14.0M1689.0 246.4l14.0 14.0M1689.0 260.4l14.0 -14.0M1665.8 248.4l14.0 14.0M1665.8 262.4l14.0 -14.0M1591.6 259.5l14.0 14.0M1591.6 273.5l14.0 -14.0M1689.9 245.4l14.0 14.0M1689.9 259.4l14.0 -14.0M1697.3 247.9l14.0 14.0M1697.3 261.9l14.0 -14.0M1704.8 250.3l14.0 14.0M1704.8 264.3l14.0 -14.0M1709.7 255.3l14.0 14.0M1709.7 269.3l14.0 -14.0M1707.3 262.8l14.0 14.0M1707.3 276.8l14.0 -14.0M1717.2 265.3l14.0 14.0M1717.2 279.3l14.0 -14.0M1719.7 270.2l14.0 14.0M1719.7 284.2l14.0 -14.0M1712.2 272.7l14.0 14.0M1712.2 286.7l14.0 -14.0M1684.9 270.2l14.0 14.0M1684.9 284.2l14.0 -14.0M1682.4 275.2l14.0 14.0M1682.4 289.2l14.0 -14.0M1689.9 280.2l14.0 14.0M1689.9 294.2l14.0 -14.0M1692.3 285.2l14.0 14.0M1692.3 299.2l14.0 -14.0M1697.3 295.1l14.0 14.0M1697.3 309.1l14.0 -14.0M1702.3 292.6l14.0 14.0M1702.3 306.6l14.0 -14.0M1712.2 290.1l14.0 14.0M1712.2 304.1l14.0 -14.0M1719.7 287.6l14.0 14.0M1719.7 301.6l14.0 -14.0M1722.2 295.1l14.0 14.0M1722.2 309.1l14.0 -14.0M1719.7 300.1l14.0 14.0M1719.7 314.1l14.0 -14.0M1712.2 307.5l14.0 14.0M1712.2 321.5l14.0 -14.0M1714.7 315.0l14.0 14.0M1714.7 329.0l14.0 -14.0M1707.3 320.0l14.0 14.0M1707.3 334.0l14.0 -14.0M1699.8 322.4l14.0 14.0M1699.8 336.4l14.0 -14.0M1699.8 329.9l14.0 14.0M1699.8 343.9l14.0 -14.0M1722.2 334.9l14.0 14.0M1722.2 348.9l14.0 -14.0M1724.7 342.3l14.0 14.0M1724.7 356.3l14.0 -14.0M1723.4 349.8l14.0 14.0M1723.4 363.8l14.0 -14.0M1725.9 354.8l14.0 14.0M1725.9 368.8l14.0 -14.0M1594.1 320.0l14.0 14.0M1594.1 334.0l14.0 -14.0M1595.4 329.9l14.0 14.0M1595.4 343.9l14.0 -14.0M1592.9 337.4l14.0 14.0M1592.9 351.4l14.0 -14.0M1597.9 342.3l14.0 14.0M1597.9 356.3l14.0 -14.0M1596.6 349.8l14.0 14.0M1596.6 363.8l14.0 -14.0M1605.3 339.9l14.0 14.0M1605.3 353.9l14.0 -14.0M1612.8 329.9l14.0 14.0M1612.8 343.9l14.0 -14.0M1617.8 324.9l14.0 14.0M1617.8 338.9l14.0 -14.0M1622.7 332.4l14.0 14.0M1622.7 346.4l14.0 -14.0M1617.8 339.9l14.0 14.0M1617.8 353.9l14.0 -14.0M1622.7 347.3l14.0 14.0M1622.7 361.3l14.0 -14.0M1615.3 352.3l14.0 14.0M1615.3 366.3l14.0 -14.0M1619.0 357.3l14.0 14.0M1619.0 371.3l14.0 -14.0M1632.7 367.2l14.0 14.0M1632.7 381.2l14.0 -14.0M1627.7 339.9l14.0 14.0M1627.7 353.9l14.0 -14.0M1605.3 332.4l14.0 14.0M1605.3 346.4l14.0 -14.0M1662.5 339.9l14.0 14.0M1662.5 353.9l14.0 -14.0M1650.1 354.8l14.0 14.0M1650.1 368.8l14.0 -14.0M1646.6 233.6l14.0 14.0M1646.6 247.6l14.0 -14.0M1652.0 234.1l14.0 14.0M1652.0 248.1l14.0 -14.0M1658.0 236.5l14.0 14.0M1658.0 250.5l14.0 -14.0M1663.7 236.8l14.0 14.0M1663.7 250.8l14.0 -14.0M1645.7 239.3l14.0 14.0M1645.7 253.3l14.0 -14.0M1651.2 241.4l14.0 14.0M1651.2 255.4l14.0 -14.0M1657.0 239.6l14.0 14.0M1657.0 253.6l14.0 -14.0M1664.9 242.9l14.0 14.0M1664.9 256.9l14.0 -14.0M1670.6 240.8l14.0 14.0M1670.6 254.8l14.0 -14.0M1646.0 249.2l14.0 14.0M1646.0 263.2l14.0 -14.0M1654.9 245.7l14.0 14.0M1654.9 259.7l14.0 -14.0M1659.7 249.1l14.0 14.0M1659.7 263.1l14.0 -14.0M1663.8 247.7l14.0 14.0M1663.8 261.7l14.0 -14.0M1669.1 246.7l14.0 14.0M1669.1 260.7l14.0 -14.0M1647.2 251.3l14.0 14.0M1647.2 265.3l14.0 -14.0M1654.1 252.6l14.0 14.0M1654.1 266.6l14.0 -14.0M1658.6 252.1l14.0 14.0M1658.6 266.1l14.0 -14.0M1664.7 252.6l14.0 14.0M1664.7 266.6l14.0 -14.0M1669.2 253.8l14.0 14.0M1669.2 267.8l14.0 -14.0M1641.8 259.0l14.0 14.0M1641.8 273.0l14.0 -14.0M1645.8 261.1l14.0 14.0M1645.8 275.1l14.0 -14.0M1652.5 258.7l14.0 14.0M1652.5 272.7l14.0 -14.0M1660.3 258.7l14.0 14.0M1660.3 272.7l14.0 -14.0M1665.6 257.9l14.0 14.0M1665.6 271.9l14.0 -14.0M1639.7 264.8l14.0 14.0M1639.7 278.8l14.0 -14.0M1647.3 267.1l14.0 14.0M1647.3 281.1l14.0 -14.0M1652.3 263.8l14.0 14.0M1652.3 277.8l14.0 -14.0M1659.1 263.8l14.0 14.0M1659.1 277.8l14.0 -14.0M1663.2 265.5l14.0 14.0M1663.2 279.5l14.0 -14.0M1642.4 271.2l14.0 14.0M1642.4 285.2l14.0 -14.0M1645.3 269.5l14.0 14.0M1645.3 283.5l14.0 -14.0M1653.0 269.9l14.0 14.0M1653.0 283.9l14.0 -14.0M1659.4 269.6l14.0 14.0M1659.4 283.6l14.0 -14.0M1666.0 270.1l14.0 14.0M1666.0 284.1l14.0 -14.0M1639.0 279.2l14.0 14.0M1639.0 293.2l14.0 -14.0M1648.4 277.4l14.0 14.0M1648.4 291.4l14.0 -14.0M1653.0 277.4l14.0 14.0M1653.0 291.4l14.0 -14.0M1660.5 275.5l14.0 14.0M1660.5 289.5l14.0 -14.0M1665.5 277.4l14.0 14.0M1665.5 291.4l14.0 -14.0M1640.4 284.8l14.0 14.0M1640.4 298.8l14.0 -14.0M1645.8 284.5l14.0 14.0M1645.8 298.5l14.0 -14.0M1653.8 283.8l14.0 14.0M1653.8 297.8l14.0 -14.0M1660.4 281.4l14.0 14.0M1660.4 295.4l14.0 -14.0M1665.3 283.7l14.0 14.0M1665.3 297.7l14.0 -14.0M1639.0 290.4l14.0 14.0M1639.0 304.4l14.0 -14.0M1646.2 290.4l14.0 14.0M1646.2 304.4l14.0 -14.0M1650.9 291.1l14.0 14.0M1650.9 305.1l14.0 -14.0M1659.3 291.2l14.0 14.0M1659.3 305.2l14.0 -14.0M1666.8 290.6l14.0 14.0M1666.8 304.6l14.0 -14.0M1636.6 297.2l14.0 14.0M1636.6 311.2l14.0 -14.0M1640.4 296.2l14.0 14.0M1640.4 310.2l14.0 -14.0M1646.8 295.3l14.0 14.0M1646.8 309.3l14.0 -14.0M1652.4 295.8l14.0 14.0M1652.4 309.8l14.0 -14.0M1657.8 294.3l14.0 14.0M1657.8 308.3l14.0 -14.0M1665.0 294.0l14.0 14.0M1665.0 308.0l14.0 -14.0M1670.7 297.0l14.0 14.0M1670.7 311.0l14.0 -14.0M1624.1 299.5l14.0 14.0M1624.1 313.5l14.0 -14.0M1627.9 302.7l14.0 14.0M1627.9 316.7l14.0 -14.0M1635.3 300.1l14.0 14.0M1635.3 314.1l14.0 -14.0M1639.1 300.4l14.0 14.0M1639.1 314.4l14.0 -14.0M1646.1 302.5l14.0 14.0M1646.1 316.5l14.0 -14.0M1654.8 302.4l14.0 14.0M1654.8 316.4l14.0 -14.0M1660.5 303.0l14.0 14.0M1660.5 317.0l14.0 -14.0M1666.4 302.9l14.0 14.0M1666.4 316.9l14.0 -14.0M1672.8 299.6l14.0 14.0M1672.8 313.6l14.0 -14.0M1676.2 300.2l14.0 14.0M1676.2 314.2l14.0 -14.0M1628.3 308.6l14.0 14.0M1628.3 322.6l14.0 -14.0M1634.5 306.1l14.0 14.0M1634.5 320.1l14.0 -14.0M1640.0 307.1l14.0 14.0M1640.0 321.1l14.0 -14.0M1647.3 307.5l14.0 14.0M1647.3 321.5l14.0 -14.0M1652.7 306.0l14.0 14.0M1652.7 320.0l14.0 -14.0M1658.5 306.6l14.0 14.0M1658.5 320.6l14.0 -14.0M1663.6 307.4l14.0 14.0M1663.6 321.4l14.0 -14.0M1669.6 308.1l14.0 14.0M1669.6 322.1l14.0 -14.0M1677.5 305.8l14.0 14.0M1677.5 319.8l14.0 -14.0M1628.7 313.7l14.0 14.0M1628.7 327.7l14.0 -14.0M1635.9 314.8l14.0 14.0M1635.9 328.8l14.0 -14.0M1641.8 312.1l14.0 14.0M1641.8 326.1l14.0 -14.0M1647.1 312.6l14.0 14.0M1647.1 326.6l14.0 -14.0M1651.0 313.5l14.0 14.0M1651.0 327.5l14.0 -14.0M1658.8 314.7l14.0 14.0M1658.8 328.7l14.0 -14.0M1664.2 314.6l14.0 14.0M1664.2 328.6l14.0 -14.0M1671.0 311.7l14.0 14.0M1671.0 325.7l14.0 -14.0M1633.1 317.9l14.0 14.0M1633.1 331.9l14.0 -14.0M1639.5 317.6l14.0 14.0M1639.5 331.6l14.0 -14.0M1648.2 321.2l14.0 14.0M1648.2 335.2l14.0 -14.0M1653.5 318.8l14.0 14.0M1653.5 332.8l14.0 -14.0M1660.4 319.3l14.0 14.0M1660.4 333.3l14.0 -14.0M1663.4 320.0l14.0 14.0M1663.4 334.0l14.0 -14.0M1632.9 326.0l14.0 14.0M1632.9 340.0l14.0 -14.0M1639.0 325.2l14.0 14.0M1639.0 339.2l14.0 -14.0M1648.4 326.0l14.0 14.0M1648.4 340.0l14.0 -14.0M1654.5 326.3l14.0 14.0M1654.5 340.3l14.0 -14.0M1658.0 323.8l14.0 14.0M1658.0 337.8l14.0 -14.0M1664.7 326.0l14.0 14.0M1664.7 340.0l14.0 -14.0M1641.6 329.6l14.0 14.0M1641.6 343.6l14.0 -14.0M1645.4 330.1l14.0 14.0M1645.4 344.1l14.0 -14.0M1653.1 332.9l14.0 14.0M1653.1 346.9l14.0 -14.0M1657.8 330.1l14.0 14.0M1657.8 344.1l14.0 -14.0M1642.7 337.5l14.0 14.0M1642.7 351.5l14.0 -14.0M1648.6 339.1l14.0 14.0M1648.6 353.1l14.0 -14.0M1651.2 336.7l14.0 14.0M1651.2 350.7l14.0 -14.0M1660.4 338.3l14.0 14.0M1660.4 352.3l14.0 -14.0M1642.2 342.4l14.0 14.0M1642.2 356.4l14.0 -14.0M1645.4 342.4l14.0 14.0M1645.4 356.4l14.0 -14.0M1651.0 342.9l14.0 14.0M1651.0 356.9l14.0 -14.0M1660.0 343.1l14.0 14.0M1660.0 357.1l14.0 -14.0M1648.7 348.8l14.0 14.0M1648.7 362.8l14.0 -14.0M1652.0 349.2l14.0 14.0M1652.0 363.2l14.0 -14.0M1671.0 416.0l14.0 14.0M1671.0 430.0l14.0 -14.0M1722.2 410.6l14.0 14.0M1722.2 424.6l14.0 -14.0M1722.2 425.9l14.0 14.0M1722.2 439.9l14.0 -14.0M1722.2 431.8l14.0 14.0M1722.2 445.8l14.0 -14.0M1722.9 437.6l14.0 14.0M1722.9 451.6l14.0 -14.0M1722.2 443.5l14.0 14.0M1722.2 457.5l14.0 -14.0M1722.9 449.4l14.0 14.0M1722.9 463.4l14.0 -14.0M1677.6 443.5l14.0 14.0M1677.6 457.5l14.0 -14.0M1670.6 457.6l14.0 14.0M1670.6 471.6l14.0 -14.0M1675.2 450.6l14.0 14.0M1675.2 464.6l14.0 -14.0M1691.2 470.5l14.0 14.0M1691.2 484.5l14.0 -14.0M1685.8 485.8l14.0 14.0M1685.8 499.8l14.0 -14.0M1716.4 468.2l14.0 14.0M1716.4 482.2l14.0 -14.0M1723.4 468.2l14.0 14.0M1723.4 482.2l14.0 -14.0M1718.7 474.0l14.0 14.0M1718.7 488.0l14.0 -14.0M1725.8 475.2l14.0 14.0M1725.8 489.2l14.0 -14.0M1716.4 479.9l14.0 14.0M1716.4 493.9l14.0 -14.0M1723.4 482.3l14.0 14.0M1723.4 496.3l14.0 -14.0M1710.5 491.7l14.0 14.0M1710.5 505.7l14.0 -14.0M1718.7 489.3l14.0 14.0M1718.7 503.3l14.0 -14.0M1725.8 491.7l14.0 14.0M1725.8 505.7l14.0 -14.0M1686.0 545.0l14.0 14.0M1686.0 559.0l14.0 -14.0M1691.7 540.4l14.0 14.0M1691.7 554.4l14.0 -14.0" stroke="#ff3333" stroke-width="5.2" fill="none"/>
<rect x="1489" y="45" width="72" height="52" fill="#fff"/>
<text x="1496.00" y="83.30" font-size="51" text-anchor="start" fill="#000" >(c)</text>
<text transform="translate(1559,333) rotate(-90)" font-size="35.9" text-anchor="middle" fill="#000">Lugge 2011 terminus</text>
<line x1="1562.94" y1="598.20" x2="1562.94" y2="591.50" stroke="#262626" stroke-width="2.3" />
<line x1="1562.94" y1="29.90" x2="1562.94" y2="36.60" stroke="#262626" stroke-width="2.3" />
<line x1="1646.49" y1="598.20" x2="1646.49" y2="591.50" stroke="#262626" stroke-width="2.3" />
<line x1="1646.49" y1="29.90" x2="1646.49" y2="36.60" stroke="#262626" stroke-width="2.3" />
<line x1="1730.03" y1="598.20" x2="1730.03" y2="591.50" stroke="#262626" stroke-width="2.3" />
<line x1="1730.03" y1="29.90" x2="1730.03" y2="36.60" stroke="#262626" stroke-width="2.3" />
<line x1="1813.58" y1="598.20" x2="1813.58" y2="591.50" stroke="#262626" stroke-width="2.3" />
<line x1="1813.58" y1="29.90" x2="1813.58" y2="36.60" stroke="#262626" stroke-width="2.3" />
<line x1="1897.12" y1="598.20" x2="1897.12" y2="591.50" stroke="#262626" stroke-width="2.3" />
<line x1="1897.12" y1="29.90" x2="1897.12" y2="36.60" stroke="#262626" stroke-width="2.3" />
<line x1="1980.66" y1="598.20" x2="1980.66" y2="591.50" stroke="#262626" stroke-width="2.3" />
<line x1="1980.66" y1="29.90" x2="1980.66" y2="36.60" stroke="#262626" stroke-width="2.3" />
<line x1="1479.40" y1="494.87" x2="1486.10" y2="494.87" stroke="#262626" stroke-width="2.3" />
<line x1="2047.50" y1="494.87" x2="2040.80" y2="494.87" stroke="#262626" stroke-width="2.3" />
<line x1="1479.40" y1="391.55" x2="1486.10" y2="391.55" stroke="#262626" stroke-width="2.3" />
<line x1="2047.50" y1="391.55" x2="2040.80" y2="391.55" stroke="#262626" stroke-width="2.3" />
<line x1="1479.40" y1="288.22" x2="1486.10" y2="288.22" stroke="#262626" stroke-width="2.3" />
<line x1="2047.50" y1="288.22" x2="2040.80" y2="288.22" stroke="#262626" stroke-width="2.3" />
<line x1="1479.40" y1="184.89" x2="1486.10" y2="184.89" stroke="#262626" stroke-width="2.3" />
<line x1="2047.50" y1="184.89" x2="2040.80" y2="184.89" stroke="#262626" stroke-width="2.3" />
<line x1="1479.40" y1="81.56" x2="1486.10" y2="81.56" stroke="#262626" stroke-width="2.3" />
<line x1="2047.50" y1="81.56" x2="2040.80" y2="81.56" stroke="#262626" stroke-width="2.3" />
<rect x="1479.40" y="29.90" width="568.10" height="568.30" fill="none" stroke="#262626" stroke-width="2.4"/>
<text x="1478.60" y="646.30" font-size="40.5" text-anchor="middle" fill="#262626" >0</text>
<text x="1645.69" y="646.30" font-size="40.5" text-anchor="middle" fill="#262626" >1000</text>
<text x="1812.78" y="646.30" font-size="40.5" text-anchor="middle" fill="#262626" >2000</text>
<text x="1979.86" y="646.30" font-size="40.5" text-anchor="middle" fill="#262626" >3000</text>
<text x="1762.50" y="697.40" font-size="40.5" text-anchor="middle" fill="#262626" >Distance from 2002 termini (m)</text>
</g>
</svg></body></html>
